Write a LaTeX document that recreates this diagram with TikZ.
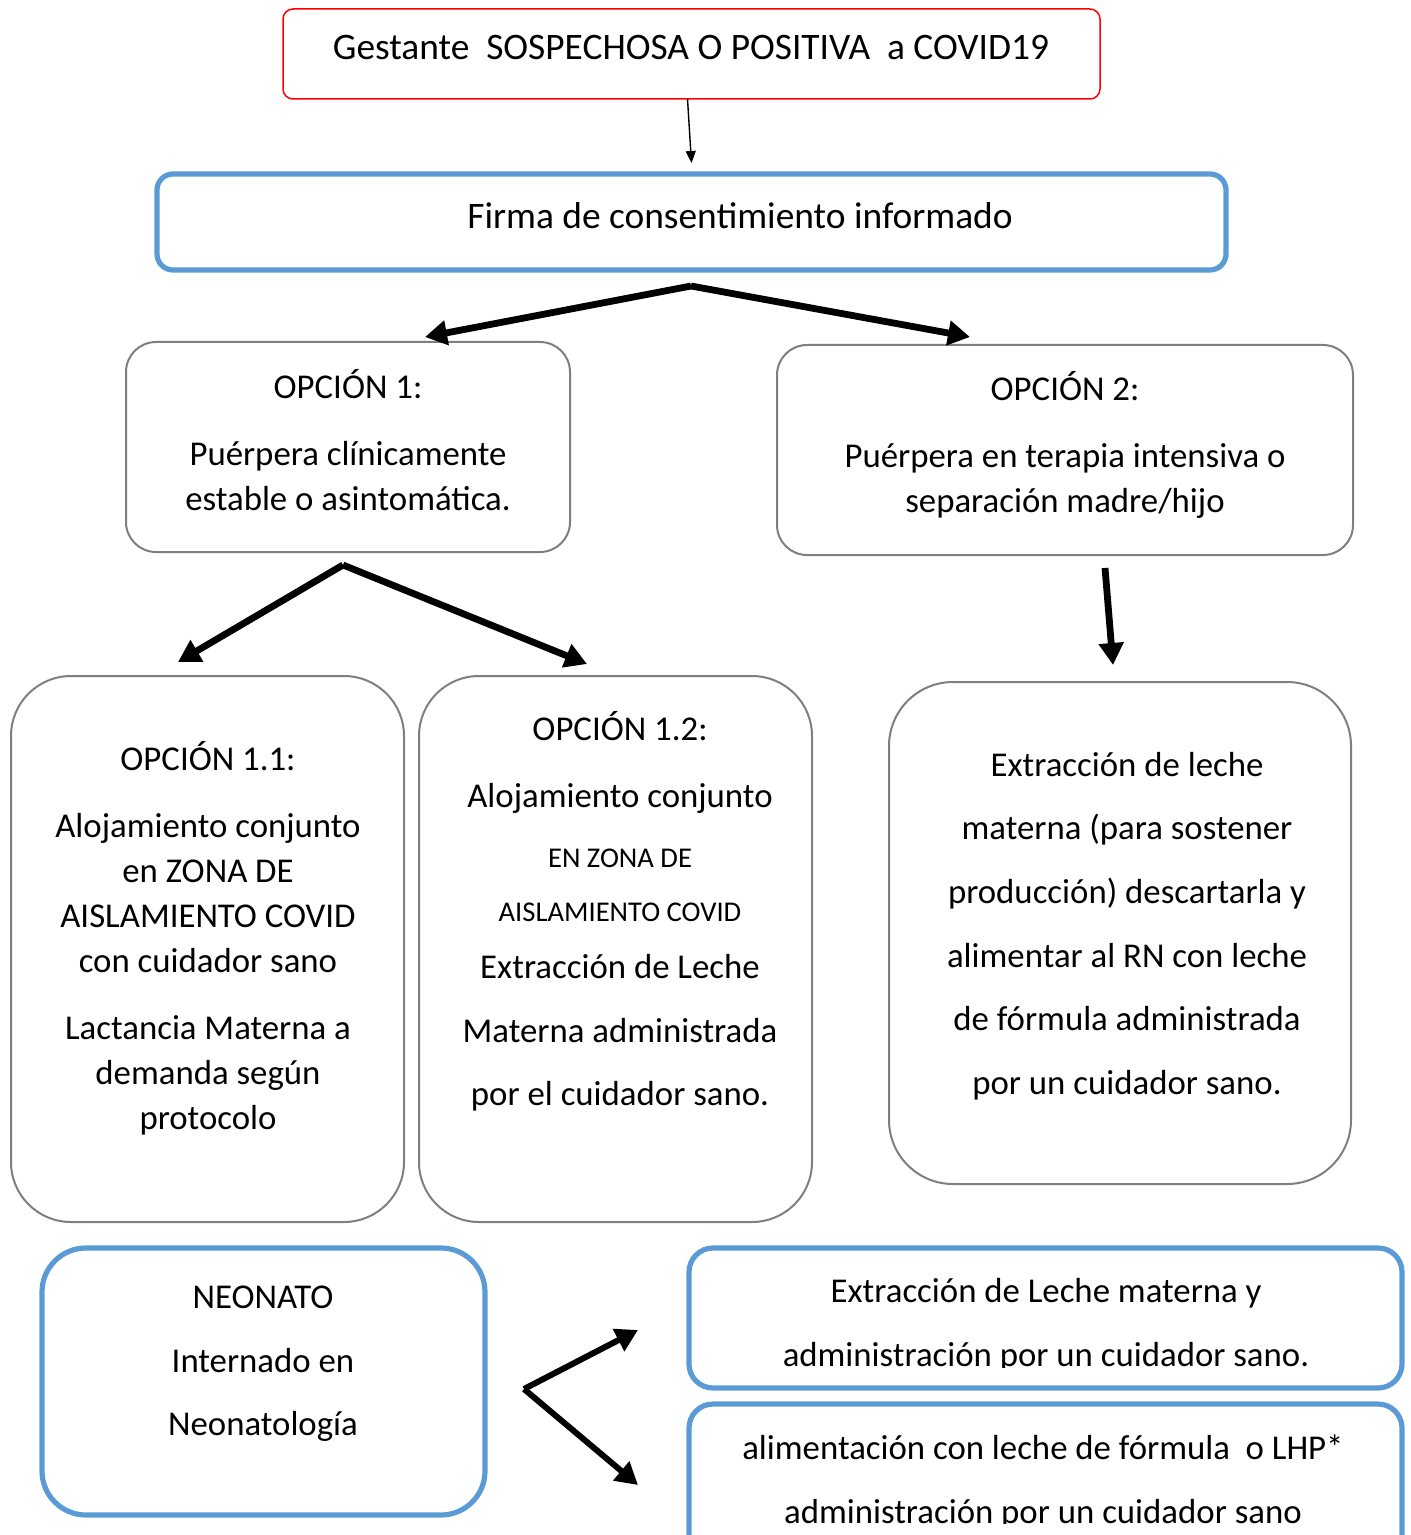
\documentclass[tikz,border=0pt]{standalone}
\usepackage{fontspec}
\setmainfont{Carlito}
\usetikzlibrary{arrows.meta}
\definecolor{colorblue}{HTML}{5B9BD5}
\definecolor{colorgray}{HTML}{7F7F7F}
\definecolor{colorred}{HTML}{FF0000}
\tikzset{%
  box/.style={inner sep=0,outer sep=0,rectangle,align=center},
  redbox/.style={box,draw=colorred,line width=0.75pt,rounded corners=5pt},
  bluebox/.style={box,draw=colorblue,line width=2.6pt},
  graybox/.style={box,draw=colorgray,line width=1pt},
  bigarrow/.style={-{Triangle[length=11pt,width=12pt]},line width=3.4pt},
  thinarrow/.style={-{Triangle[length=6pt,width=5pt]},line width=0.7pt}
}
\newcommand{\textsize}{\fontsize{17.4pt}{22.5pt}\selectfont}
\newcommand{\topsize}{\fontsize{18.7pt}{22.5pt}\selectfont}
\newcommand{\widesize}{\fontsize{17.4pt}{31.8pt}\selectfont}
\newcommand{\smallsize}{\fontsize{14.3pt}{22.5pt}\selectfont}

\begin{document}
\begin{tikzpicture}[x=0.5pt,y=-0.5pt,font=\textsize]
\useasboundingbox (0,0) rectangle (1411,1535);
\clip (0,0) rectangle (1411,1535);

% top
\node[redbox,minimum width=408.5pt,minimum height=45pt] (gestante) at (691.5,54) {};
\node[align=center,font=\topsize] (gestantetxt) at (691,48) {Gestante\ \ SOSPECHOSA O POSITIVA\ \ a COVID19};

\node[bluebox,rounded corners=8pt,minimum width=534.5pt,minimum height=48pt] (firma) at (691.5,222) {};
\node[align=center,font=\topsize] (firmatxt) at (740,216) {Firma de consentimiento informado};

\draw[thinarrow] ([xshift=-2pt]gestante.south) -- ([yshift=5.5pt]firma.north);

% options
\node[graybox,rounded corners=15pt,minimum width=222pt,minimum height=105pt] (opc1) at (348,447) {};
\node[align=center] (opc1txt) at (348,440) {OPCIÓN 1:\\[11pt] Puérpera clínicamente\\ estable o asintomática.};
\node[graybox,rounded corners=15pt,minimum width=288pt,minimum height=105pt] (opc2) at (1065,450) {};
\node[align=center] (opc2txt) at (1065,445) {OPCIÓN 2:\\[11pt] Puérpera en terapia intensiva o\\ separación madre/hijo};

\coordinate (split1) at (691,286);
\coordinate (tip1) at (425,337);
\coordinate (tip2) at (970,337);
\draw[bigarrow] (split1) -- (tip1);
\draw[bigarrow] (split1) -- (tip2);

% second level
\node[graybox,rounded corners=30pt,minimum width=196.5pt,minimum height=273pt] (opc11) at (207.5,949) {};
\node[align=center] (opc11txt) at (208,938) {OPCIÓN 1.1:\\[11pt] Alojamiento conjunto\\ en ZONA DE\\ AISLAMIENTO COVID\\ con cuidador sano\\[11pt] Lactancia Materna a\\ demanda según\\ protocolo};

\node[graybox,rounded corners=30pt,minimum width=196.5pt,minimum height=273pt] (opc12) at (615.5,949) {};
\node[align=center] (opc12txt) at (620,911) {OPCIÓN 1.2:\\[11pt] Alojamiento conjunto\\[7.5pt] {\smallsize EN ZONA DE}\\[4.5pt] {\smallsize AISLAMIENTO COVID}\\[6pt] Extracción de Leche\\[9.5pt] Materna administrada\\[9pt] por el cuidador sano.};

\node[graybox,rounded corners=32pt,minimum width=231pt,minimum height=251pt] (extrac) at (1120,933) {};
\node[align=center,font=\widesize] (extractxt) at (1127,926) {Extracción de leche\\ materna (para sostener\\ producción) descartarla y\\ alimentar al RN con leche\\ de fórmula administrada\\ por un cuidador sano.};

\coordinate (split2) at (343,565);
\coordinate (tip3) at (178,662);
\coordinate (tip4) at (587,664);
\coordinate (start3) at (1105,568);
\coordinate (tip5) at (1113,665);
\draw[bigarrow] (split2) -- (tip3);
\draw[bigarrow] (split2) -- (tip4);
\draw[bigarrow] (start3) -- (tip5);

% neonato
\node[bluebox,rounded corners=22pt,minimum width=221.5pt,minimum height=133.5pt] (neonato) at (263.5,1381.5) {};
\node[align=center,font=\widesize] (neonatotxt) at (263,1364) {NEONATO\\ Internado en\\ Neonatología};

\node[bluebox,rounded corners=12pt,minimum width=356.5pt,minimum height=70pt] (leche) at (1045.5,1318) {};
\begin{scope}
\clip (689,1248) rectangle (1402,1367);
\node[align=center,font=\widesize] (lechetxt) at (1046,1325) {Extracción de Leche materna y\\ administración por un cuidador sano.};
\end{scope}

\node[bluebox,rounded corners=12pt,minimum width=356.5pt,minimum height=78pt] (formula) at (1045.5,1482) {};
\begin{scope}
\clip (689,1404) rectangle (1402,1523);
\node[align=center,font=\widesize] (formulatxt) at (1043,1482) {alimentación con leche de fórmula\ \ o LHP*\\ administración por un cuidador sano};
\end{scope}

\coordinate (split3) at (524,1389);
\coordinate (tip6) at (638,1330);
\coordinate (tip7) at (638,1485);
\draw[bigarrow,line width=3pt] (split3) -- (tip6);
\draw[bigarrow,line width=3pt] (split3) -- (tip7);

\end{tikzpicture}
\end{document}
